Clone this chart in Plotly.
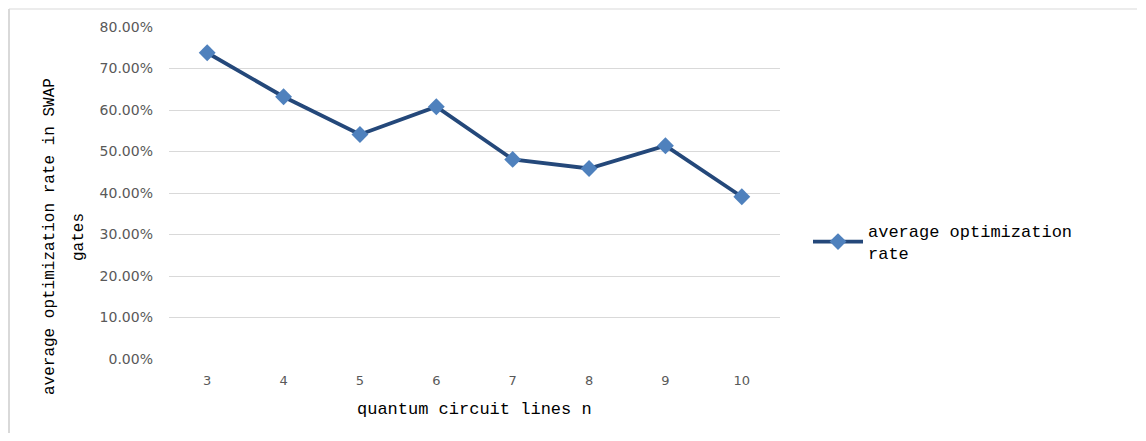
import plotly.graph_objects as go

categories = ["3", "4", "5", "6", "7", "8", "9", "10"]
rates = [0.738, 0.632, 0.541, 0.608, 0.481, 0.459, 0.514, 0.391]
series_name = "average optimization<br>rate"
x_title = "quantum circuit lines n"
y_title_1 = "average optimization rate in SWAP"
y_title_2 = "gates"

# the page body has an 8px margin; work in reference pixels and shift by it
OFF = 8
W, H = 1146 - 2 * OFF, 441 - 2 * OFF
L, R, T, B = 169 - OFF, 780 - OFF, 27 - OFF, 359 - OFF

fig = go.Figure()
fig.add_trace(go.Scatter(
    x=categories, y=rates, mode="lines+markers", name=series_name,
    line=dict(color="#24487a", width=3.8),
    marker=dict(symbol="diamond", size=13, color="#4f81bd"),
))

def px(x):
    return (x - OFF - L) / (R - L)

def py(y):
    return (B - (y - OFF)) / (B - T)

mono = "Liberation Mono"

fig.update_layout(
    width=W, height=H,
    margin=dict(l=L, r=W - R, t=T, b=H - B, pad=0),
    paper_bgcolor="white", plot_bgcolor="white",
    showlegend=True,
    legend=dict(x=px(808), y=py(242), xanchor="left", yanchor="middle",
                font=dict(family=mono, size=17, color="black"),
                itemwidth=50, bgcolor="rgba(0,0,0,0)"),
    xaxis=dict(type="category", range=[-0.5, 7.5], showgrid=False,
               showline=False, zeroline=False, ticks="",
               tickfont=dict(family="DejaVu Sans", size=13, color="#595959"),
               ticklabelstandoff=12),
    yaxis=dict(range=[0, 0.8], dtick=0.1, tickformat=".2%",
               showgrid=True, gridcolor="#d9d9d9", gridwidth=1,
               zeroline=False, showline=False, ticks="",
               tickfont=dict(family="DejaVu Sans", size=14, color="#595959"),
               ticklabelstandoff=15),
    font=dict(family=mono),
)

fig.add_annotation(text=x_title, xref="paper", yref="paper",
                   x=px(474), y=py(410), xanchor="center", yanchor="middle",
                   showarrow=False,
                   font=dict(family=mono, size=17, color="black"))
fig.add_annotation(text=y_title_1, xref="paper", yref="paper",
                   x=px(50), y=py(237), xanchor="center", yanchor="middle",
                   showarrow=False, textangle=-90,
                   font=dict(family=mono, size=16, color="black"))
fig.add_annotation(text=y_title_2, xref="paper", yref="paper",
                   x=px(79), y=py(237), xanchor="center", yanchor="middle",
                   showarrow=False, textangle=-90,
                   font=dict(family=mono, size=16, color="black"))

# chart frame (left and top edges visible)
fig.add_shape(type="line", xref="paper", yref="paper",
              x0=px(9), x1=px(9), y0=py(9), y1=py(445),
              line=dict(color="#d9d9d9", width=2))
fig.add_shape(type="line", xref="paper", yref="paper",
              x0=px(9), x1=px(1137), y0=py(9), y1=py(9),
              line=dict(color="#d9d9d9", width=1))

fig.write_html("out.html")
